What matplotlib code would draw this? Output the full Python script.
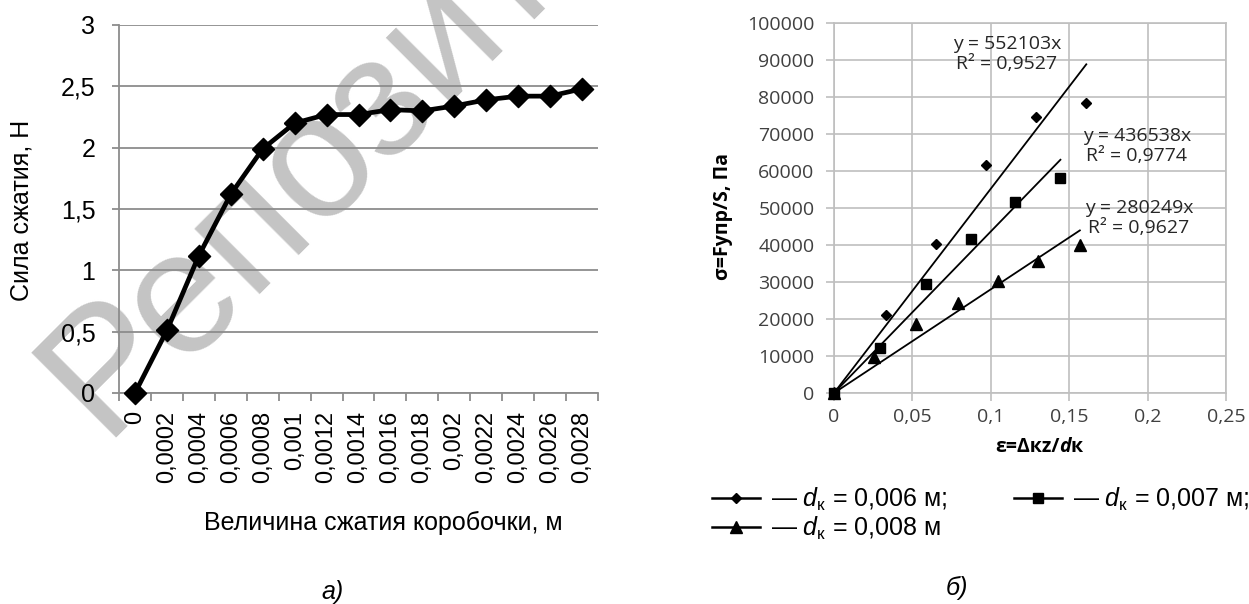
import numpy as np
import matplotlib
matplotlib.use("Agg")
import matplotlib.pyplot as plt
import matplotlib as mpl
from matplotlib.lines import Line2D

mpl.rcParams['font.family'] = ['Liberation Sans', 'DejaVu Sans']
mpl.rcParams['mathtext.fontset'] = 'custom'
mpl.rcParams['mathtext.rm'] = 'Liberation Sans'
mpl.rcParams['mathtext.it'] = 'Liberation Sans:italic'

# --- panel a): compression force vs box compression
compression_labels = ['0', '0,0002', '0,0004', '0,0006', '0,0008', '0,001', '0,0012',
                      '0,0014', '0,0016', '0,0018', '0,002', '0,0022', '0,0024',
                      '0,0026', '0,0028']
force_n = [0, 0.51, 1.12, 1.62, 1.99, 2.20, 2.27, 2.27, 2.31, 2.30, 2.34, 2.39,
           2.42, 2.42, 2.48]

# --- panel б): stress vs strain for three box diameters
strain_006 = [0, 0.0329, 0.0653, 0.097, 0.1287, 0.1609]
stress_006 = [0, 21100, 40300, 61600, 74700, 78400]
strain_007 = [0, 0.0295, 0.0585, 0.0875, 0.1156, 0.1444]
stress_007 = [0, 12100, 29400, 41600, 51700, 58200]
strain_008 = [0, 0.0254, 0.0526, 0.0789, 0.1047, 0.1303, 0.1568]
stress_008 = [0, 9600, 18600, 24300, 30300, 35800, 40000]
slopes = [552103, 436538, 280249]
r_squared = [0.9527, 0.9774, 0.9627]
legend_labels = ['0,006', '0,007', '0,008']

W, H = 1249, 604
fig = plt.figure(figsize=(W / 100, H / 100), dpi=100, facecolor='white')


def fx(x):
    return x / W


def fy(y):
    return 1 - y / H


# watermark behind everything
fig.text(fx(102), fy(438), 'Репозиторий', rotation=45, rotation_mode='anchor',
         ha='left', va='baseline', fontsize=126, color='#c4c4c4', zorder=-1)

# ---------------- panel a)
ax1 = fig.add_axes([fx(119), fy(393), (598 - 119) / W, (393 - 25) / H])
ax1.set_facecolor('none')
grey = '#8c8c8c'
diamond = [(-1, 0), (0, 1), (1, 0), (0, -1), (-1, 0)]
xs = np.arange(len(force_n))
ax1.plot(xs, force_n, color='black', lw=3.4, marker=diamond, ms=16,
         zorder=3, clip_on=False)
ax1.set_xlim(-0.5, len(force_n) - 0.5)
ax1.set_ylim(0, 3)
yt = np.arange(0, 3.01, 0.5)
ax1.set_yticks(yt, [f'{v:g}'.replace('.', ',') for v in yt], fontsize=18)
ax1.set_xticks(xs, compression_labels, rotation=90, fontsize=17)
ax1.set_xticks(np.arange(-0.5, len(force_n), 1), minor=True)
ax1.tick_params(axis='x', which='major', length=0, pad=13)
ax1.tick_params(axis='x', which='minor', length=6, width=1.3, color=grey)
ax1.tick_params(axis='y', length=5, width=1.3, color=grey, pad=12)
ax1.grid(axis='y', color=grey, lw=1.3)
ax1.set_axisbelow(True)
for s in ['top', 'right']:
    ax1.spines[s].set_visible(False)
for s in ['left', 'bottom']:
    ax1.spines[s].set_color(grey)
    ax1.spines[s].set_linewidth(1.3)

fig.text(fx(22), fy(210), 'Сила сжатия, Н', rotation=90, ha='center', va='center',
         fontsize=18)
fig.text(fx(383), fy(523), 'Величина сжатия коробочки, м', ha='center', va='center',
         fontsize=18)
fig.text(fx(333), fy(592), 'а)', ha='center', va='center', fontsize=18, style='italic')

# ---------------- panel б)
ax2 = fig.add_axes([fx(834), fy(393), (1226 - 834) / W, (393 - 23) / H])
ax2.set_facecolor('none')
lg = '#bfbfbf'
tc = '#404040'
series = [(strain_006, stress_006, 'D', 5.2),
          (strain_007, stress_007, 's', 7),
          (strain_008, stress_008, '^', 8)]
handles = []
for (sx, sy, mk, ms), k in zip(series, slopes):
    ax2.plot(sx, sy, ls='none', marker=mk, ms=ms, color='black', zorder=3,
             clip_on=False)
    xl = np.array([0, max(sx)])
    ax2.plot(xl, k * xl, color='black', lw=1.3, zorder=2)
    handles.append(Line2D([], [], color='black', lw=1.8, marker=mk, ms=ms))

ax2.set_xlim(0, 0.25)
ax2.set_ylim(0, 100000)
xt = np.round(np.arange(0, 0.2501, 0.05), 2)
ax2.set_xticks(xt, [f'{v:g}'.replace('.', ',') for v in xt],
               fontfamily='Open Sans', fontsize=14, color=tc)
yt2 = np.arange(0, 100001, 10000)
ax2.set_yticks(yt2, [f'{v:d}' for v in yt2], fontfamily='Open Sans', fontsize=14,
               color=tc)
ax2.tick_params(length=6, width=1.2, color=lg)
ax2.tick_params(axis='y', pad=8)
ax2.tick_params(axis='x', pad=5)
ax2.grid(True, color=lg, lw=1.2)
ax2.set_axisbelow(True)
for s in ax2.spines.values():
    s.set_color(lg)
    s.set_linewidth(1.2)

eq_pos = [(1007, 54), (1137, 146), (1139, 218)]
for (px, py), k, r2 in zip(eq_pos, slopes, r_squared):
    ax2.text((px - 834) / 392, (393 - py) / 370,
             f'y = {k}x\nR² = {r2:.4f}'.replace('.', ','),
             transform=ax2.transAxes, ha='center', va='center',
             multialignment='center', fontfamily='Open Sans', fontsize=14,
             color='#262626', linespacing=1.15)

fig.text(fx(723), fy(217), 'σ=Fупр/S, Па', rotation=90, ha='center', va='center',
         fontfamily='Open Sans', fontweight='bold', fontsize=14)
xl1 = fig.text(fx(995), fy(452), 'ε=Δкz/', ha='left', va='baseline',
               fontfamily='Open Sans', fontweight='bold', fontsize=14)
xl2 = ax2.annotate('d', xy=(1, 0), xycoords=xl1, ha='left', va='bottom',
                   fontfamily='Open Sans', fontweight='bold', style='italic',
                   fontsize=14, annotation_clip=False)
ax2.annotate('к', xy=(1, 0), xycoords=xl2, ha='left', va='bottom',
             fontfamily='Open Sans', fontweight='bold', fontsize=14,
             annotation_clip=False)

labels = [f'— $\\mathit{{d}}_{{\\mathregular{{к}}}}$ = {v} м' + (';' if i < 2 else '')
          for i, v in enumerate(legend_labels)]
order = [0, 2, 1]
fig.legend([handles[i] for i in order], [labels[i] for i in order], ncol=2,
           loc='upper left', bbox_to_anchor=(fx(712), fy(486)), frameon=False,
           fontsize=18, handlelength=1.9, handletextpad=0.45, columnspacing=2.7,
           borderpad=0, borderaxespad=0, labelspacing=0.05)

fig.text(fx(957), fy(588), 'б)', ha='center', va='center', fontsize=18, style='italic')

fig.savefig('out.png', dpi=100, facecolor='white')
